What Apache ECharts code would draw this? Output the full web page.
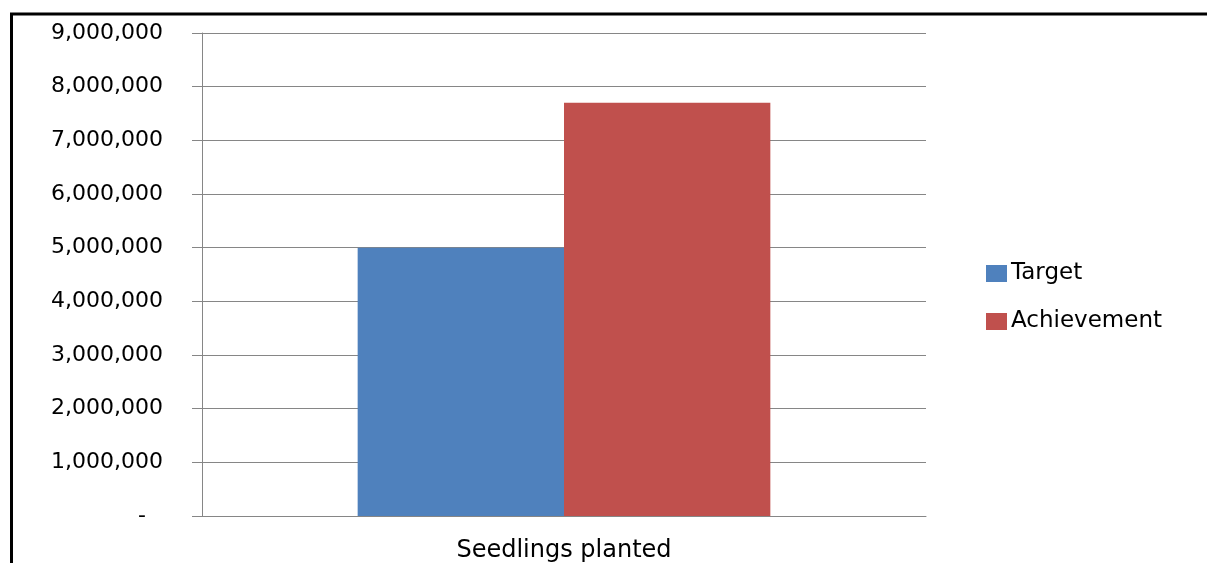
<!DOCTYPE html>
<html>
<head>
<meta charset="utf-8">
<script src="https://cdn.jsdelivr.net/npm/echarts@6/dist/echarts.min.js"></script>
<style>
  html, body { margin: 0; padding: 0; background: #fff; }
  #chart { width: 1207px; height: 563px; }
</style>
</head>
<body>
<div id="chart"></div>
<script>
// data
var categories = ['Seedlings planted'];
var seriesNames = ['Target', 'Achievement'];
var targetValues = [5000000];
var achievementValues = [7700000];
var seriesColors = ['#4F81BD', '#C0504D'];

var chartDom = document.getElementById('chart');
var myChart = echarts.init(chartDom);

var gridColor = '#868686';
var fontFamily = 'DejaVu Sans';

// 9000000 -> "9,000,000", 0 -> "-"
function fmtNumber(v) {
    if (v === 0) return '{z|-}';
    return String(v).replace(/\B(?=(\d{3})+(?!\d))/g, ',');
}

var option = {
    animation: false,
    backgroundColor: '#fff',
    graphic: [{
        type: 'rect',
        shape: { x: 11.5, y: 14, width: 1260, height: 620 },
        style: { fill: 'none', stroke: '#000', lineWidth: 3 },
        silent: true
    }],
    grid: {
        left: 202,
        right: 281,
        top: 33,
        bottom: 47
    },
    legend: {
        orient: 'vertical',
        left: 981,
        top: 257,
        itemWidth: 21,
        itemHeight: 17,
        itemGap: 25,
        icon: 'rect',
        textStyle: { fontFamily: fontFamily, fontSize: 23, color: '#000', padding: [0, 0, 0, -1] },
        data: seriesNames
    },
    xAxis: {
        type: 'category',
        data: categories,
        axisLine: { lineStyle: { color: gridColor, width: 1 } },
        axisTick: { length: 9, lineStyle: { color: gridColor, width: 2 } },
        axisLabel: {
            margin: 23,
            fontFamily: fontFamily,
            fontSize: 24,
            color: '#000'
        }
    },
    yAxis: {
        type: 'value',
        min: 0,
        max: 9000000,
        interval: 1000000,
        axisLine: { show: true, lineStyle: { color: gridColor, width: 1 } },
        axisTick: { show: true, length: 10, lineStyle: { color: gridColor } },
        splitLine: { lineStyle: { color: gridColor, width: 1 } },
        axisLabel: {
            margin: 39,
            fontFamily: fontFamily,
            fontSize: 22,
            color: '#000',
            formatter: fmtNumber,
            rich: {
                z: { fontFamily: fontFamily, fontSize: 22, color: '#000', padding: [0, 17, 0, 0] }
            }
        }
    },
    series: [{
        name: seriesNames[0],
        type: 'bar',
        data: targetValues,
        itemStyle: { color: seriesColors[0] },
        barGap: '0%',
        barCategoryGap: '43%'
    }, {
        name: seriesNames[1],
        type: 'bar',
        data: achievementValues,
        itemStyle: { color: seriesColors[1] },
        barGap: '0%',
        barCategoryGap: '43%'
    }]
};

myChart.setOption(option);

window.addEventListener('resize', function() {
    myChart.resize();
});
</script>
</body>
</html>
